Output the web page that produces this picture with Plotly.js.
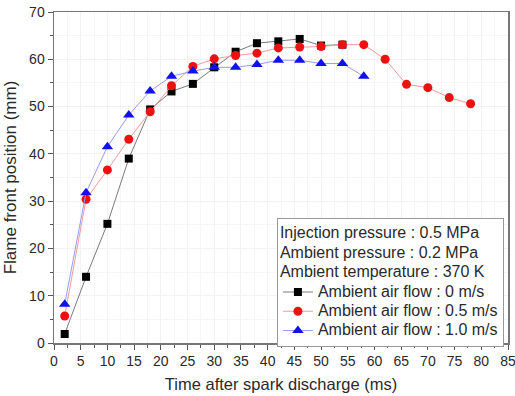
<!DOCTYPE html>
<html>
<head>
<meta charset="utf-8">
<script src="https://cdn.plot.ly/plotly-3.0.1.min.js"></script>
<style>
  html, body { margin: 0; padding: 0; background: #fff; }
  #chart { width: 515px; height: 396px; }
</style>
</head>
<body>
<div id="chart"></div>
<script>
// Time after spark discharge (ms)
const timeNoFlow = [2, 6, 10, 14, 18, 22, 26, 30, 34, 38, 42, 46, 50, 54];
const timeMidFlow = [2, 6, 10, 14, 18, 22, 26, 30, 34, 38, 42, 46, 50, 54, 58, 62, 66, 70, 74, 78];
const timeHighFlow = [2, 6, 10, 14, 18, 22, 26, 30, 34, 38, 42, 46, 50, 54, 58];

// Flame front position (mm)
const posNoFlow = [1.9, 14.0, 25.2, 39.0, 49.4, 53.2, 54.8, 58.3, 61.6, 63.4, 63.8, 64.3, 62.9, 63.1];
const posMidFlow = [5.7, 30.4, 36.6, 43.1, 48.9, 54.4, 58.5, 60.1, 60.8, 61.3, 62.4, 62.6, 62.7, 63.1, 63.1, 60.0, 54.7, 54.0, 51.9, 50.6];
const posHighFlow = [8.2, 31.8, 41.5, 48.2, 53.3, 56.4, 57.5, 58.3, 58.3, 58.9, 59.8, 59.8, 59.1, 59.1, 56.4];

const seriesNames = [
  'Ambient air flow : 0 m/s',
  'Ambient air flow : 0.5 m/s',
  'Ambient air flow : 1.0 m/s'
];
const conditionLines = [
  'Injection pressure : 0.5 MPa',
  'Ambient pressure : 0.2 MPa',
  'Ambient temperature : 370 K'
];

const FONT = 'Liberation Sans, Arial, sans-serif';
const INK = '#2a2a2a';
// legend rows are packed tightly: the row pitch follows the outer font size,
// while the glyphs themselves are drawn a little larger
const big = s => '<span style="font-size:16px">' + s + '</span>';

const traces = [
  {
    x: timeNoFlow, y: posNoFlow, name: big(seriesNames[0]),
    mode: 'lines+markers', type: 'scatter',
    line: { color: '#7a7a7a', width: 1 },
    marker: { symbol: 'square', size: 8, color: '#000000' }
  },
  {
    x: timeMidFlow, y: posMidFlow, name: big(seriesNames[1]),
    mode: 'lines+markers', type: 'scatter',
    line: { color: '#f39a9a', width: 1 },
    marker: { symbol: 'circle', size: 9, color: '#ee1111' }
  },
  {
    x: timeHighFlow, y: posHighFlow, name: big(seriesNames[2]),
    mode: 'lines+markers', type: 'scatter',
    line: { color: '#9a9af3', width: 1 },
    marker: { symbol: 'triangle-up', size: 10, color: '#1111ee' }
  }
];

const axisCommon = {
  showline: true, mirror: true, linecolor: '#777', linewidth: 1.5,
  ticks: 'outside', ticklen: 5, tickcolor: '#555', tickwidth: 1,
  showgrid: true, gridcolor: '#f1f1f1', gridwidth: 1,
  zeroline: false,
  ticklabeloverflow: 'allow',
  tickfont: { family: FONT, size: 14, color: INK }
};

const layout = {
  width: 515, height: 396,
  margin: { l: 54, r: 7, t: 12, b: 53 },
  paper_bgcolor: '#ffffff', plot_bgcolor: '#ffffff',
  font: { family: FONT, color: INK },
  showlegend: true,
  xaxis: Object.assign({}, axisCommon, {
    range: [0, 85], dtick: 5, tick0: 0,
    minor: { dtick: 2.5, ticks: 'outside', ticklen: 3, tickcolor: '#555', showgrid: true, gridcolor: '#f6f6f6' },
    title: { text: 'Time after spark discharge (ms)', standoff: 10,
             font: { size: 16.5, color: INK, family: FONT } }
  }),
  yaxis: Object.assign({}, axisCommon, {
    range: [0, 70], dtick: 10, tick0: 0,
    minor: { dtick: 5, ticks: 'outside', ticklen: 3, tickcolor: '#555', showgrid: true, gridcolor: '#f6f6f6' },
    title: { text: 'Flame front position (mm)', standoff: 8,
             font: { size: 17, color: INK, family: FONT } }
  }),
  legend: {
    x: 0.491, y: 0.378, xanchor: 'left', yanchor: 'top',
    bgcolor: 'rgba(255,255,255,1)', bordercolor: '#999', borderwidth: 1,
    font: { size: 12.5, color: INK, family: FONT },
    title: { text: conditionLines.map(big).join('<br>'), side: 'top',
             font: { size: 15, color: INK, family: FONT } },
    itemwidth: 30,
    tracegroupgap: 0
  }
};

Plotly.newPlot('chart', traces, layout, { displayModeBar: false, staticPlot: true });
</script>
</body>
</html>
